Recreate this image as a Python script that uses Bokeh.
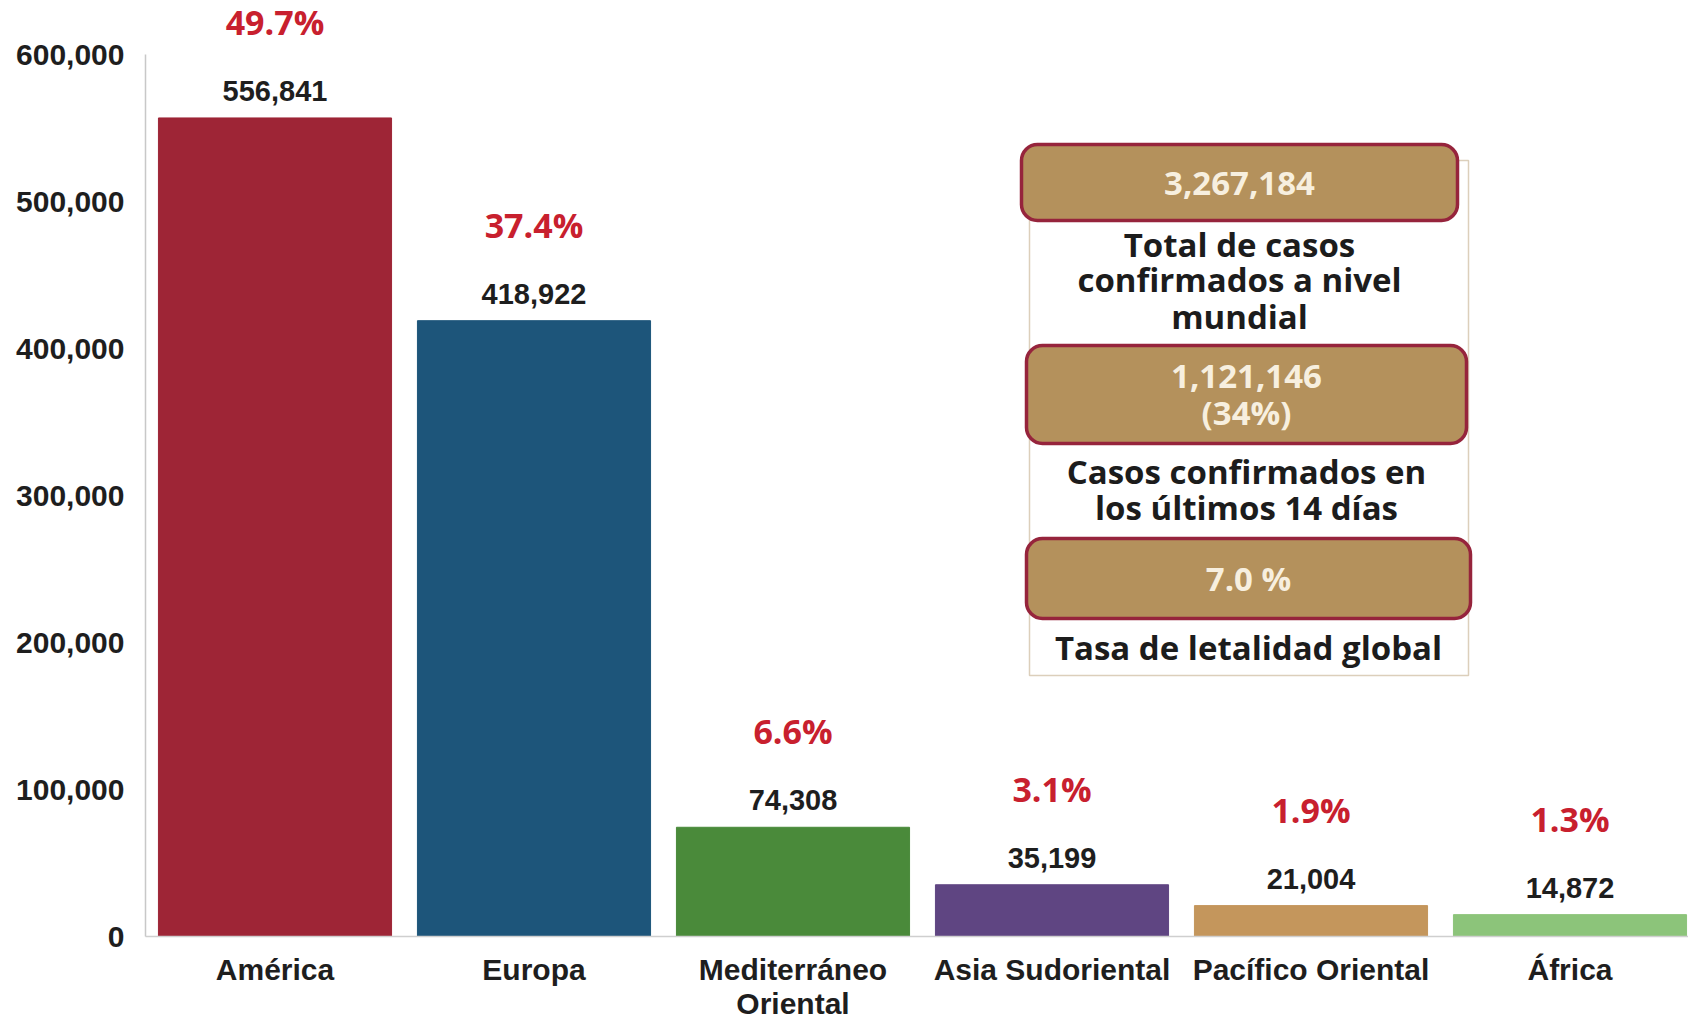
from bokeh.plotting import figure
from bokeh.models import (ColumnDataSource, Range1d, FixedTicker, NumeralTickFormatter,
                          BoxAnnotation, Label)
from bokeh.core.properties import value
from bokeh.embed import file_html
from bokeh.resources import INLINE

# ---- data ----
regions = ["América", "Europa", "Mediterráneo\nOriental", "Asia Sudoriental",
           "Pacífico Oriental", "África"]
cases = [556841, 418922, 74308, 35199, 21004, 14872]
pct_labels = ["49.7%", "37.4%", "6.6%", "3.1%", "1.9%", "1.3%"]
y_ticks = [0, 100000, 200000, 300000, 400000, 500000, 600000]

total_cases = "3,267,184"
total_caption = ["Total de casos", "confirmados a nivel", "mundial"]
recent_cases = ["1,121,146", "(34%)"]
recent_caption = ["Casos confirmados en", "los últimos 14 días"]
lethality = "7.0 %"
lethality_caption = ["Tasa de letalidad global"]

bar_colors = ["#9e2536", "#1d557a", "#4a8a3a", "#5f4582", "#c4965c", "#8cc47a"]

# ---- layout constants ----
FRAME_LEFT = 145          # figure-relative
FRAME_W = 1543
FRAME_H = 936
UNIT_PX = 259.0
Y_PX = 882.0 / 600000.0   # pixels per case
x_end = FRAME_W / UNIT_PX
y_end = FRAME_H / Y_PX

xs = [i + 0.5 for i in range(len(regions))]
src = ColumnDataSource(dict(
    x=xs, top=cases, color=bar_colors,
    vlab=["{:,}".format(c) for c in cases], plab=pct_labels,
))

p = figure(frame_width=FRAME_W, frame_height=FRAME_H, output_backend="svg",
           toolbar_location=None,
           x_range=Range1d(0, x_end), y_range=Range1d(0, y_end),
           min_border_left=FRAME_LEFT, min_border_right=0,
           min_border_top=0, min_border_bottom=0)
p.outline_line_color = None
p.xgrid.grid_line_color = None
p.ygrid.grid_line_color = None
p.background_fill_color = "white"

p.vbar(x="x", top="top", width=0.9, bottom=0, color="color", source=src)

NUM_FONT = "Liberation Sans"
p.text(x="x", y="top", text="vlab", source=src, y_offset=-27,
       text_align="center", text_baseline="middle", text_font=value(NUM_FONT),
       text_font_style="bold", text_font_size="29px", text_color="#1e1e1e")
p.text(x="x", y="top", text="plab", source=src, y_offset=-96,
       text_align="center", text_baseline="middle", text_font=value("Open Sans"),
       text_font_style="bold", text_font_size="34px", text_color="#c8202e")

# axes
ya = p.yaxis[0]
ya.ticker = FixedTicker(ticks=y_ticks)
ya.formatter = NumeralTickFormatter(format="0,0")
ya.bounds = (0, 600000)
ya.axis_line_color = "#c8c8c8"
ya.axis_line_width = 1.5
ya.major_tick_line_color = None
ya.minor_tick_line_color = None
ya.major_label_standoff = 15
ya.major_label_text_font = NUM_FONT
ya.major_label_text_font_style = "bold"
ya.major_label_text_font_size = "30px"
ya.major_label_text_color = "#1e1e1e"

xa = p.xaxis[0]
xa.ticker = FixedTicker(ticks=xs)
xa.major_label_overrides = {x: r for x, r in zip(xs, regions)}
xa.axis_line_color = "#cfcfcf"
xa.axis_line_width = 1.5
xa.major_tick_line_color = None
xa.minor_tick_line_color = None
xa.major_label_standoff = 10
xa.major_label_text_font = NUM_FONT
xa.major_label_text_font_style = "bold"
xa.major_label_text_font_size = "30px"
xa.major_label_text_color = "#1e1e1e"
xa.major_label_text_line_height = 1.05

# ---- info panel (page pixel positions converted to data coords) ----
def dx(px):
    return (px - FRAME_LEFT) / UNIT_PX

def dy(py):
    return (FRAME_H - py) / Y_PX

p.add_layout(BoxAnnotation(left=dx(1029), right=dx(1468), top=dy(160), bottom=dy(675),
                           fill_color="white", fill_alpha=1, line_color="#dccfbb",
                           line_alpha=1, line_width=1.5, level="annotation"))

BROWN = "#b4915c"
BORDER = "#96243c"
for (l, r, t, b) in [(1021, 1457, 144, 220), (1026, 1466, 345, 443), (1026, 1470, 538, 618)]:
    p.add_layout(BoxAnnotation(left=dx(l), right=dx(r), top=dy(t), bottom=dy(b),
                               fill_color=BROWN, fill_alpha=1, line_color=BORDER,
                               line_alpha=1, line_width=3.5, border_radius=16,
                               level="annotation"))

def put(text, px, py, color, size):
    p.add_layout(Label(x=dx(px), y=dy(py), text=text, text_align="center",
                       text_baseline="middle", text_font="Open Sans",
                       text_font_style="bold", text_font_size=size, text_color=color))

CREAM = "#f7efdf"
DARK = "#1c1c1c"
put(total_cases, 1239, 183, CREAM, "33px")
for t, py in zip(total_caption, [244, 279, 316]):
    put(t, 1239, py, DARK, "33px")
for t, py in zip(recent_cases, [376, 412]):
    put(t, 1246, py, CREAM, "33px")
for t, py in zip(recent_caption, [471, 507]):
    put(t, 1246, py, DARK, "33px")
put(lethality, 1248, 578, CREAM, "33px")
for t, py in zip(lethality_caption, [647]):
    put(t, 1248, py, DARK, "33px")

open("out.html", "w").write(file_html(p, INLINE))
